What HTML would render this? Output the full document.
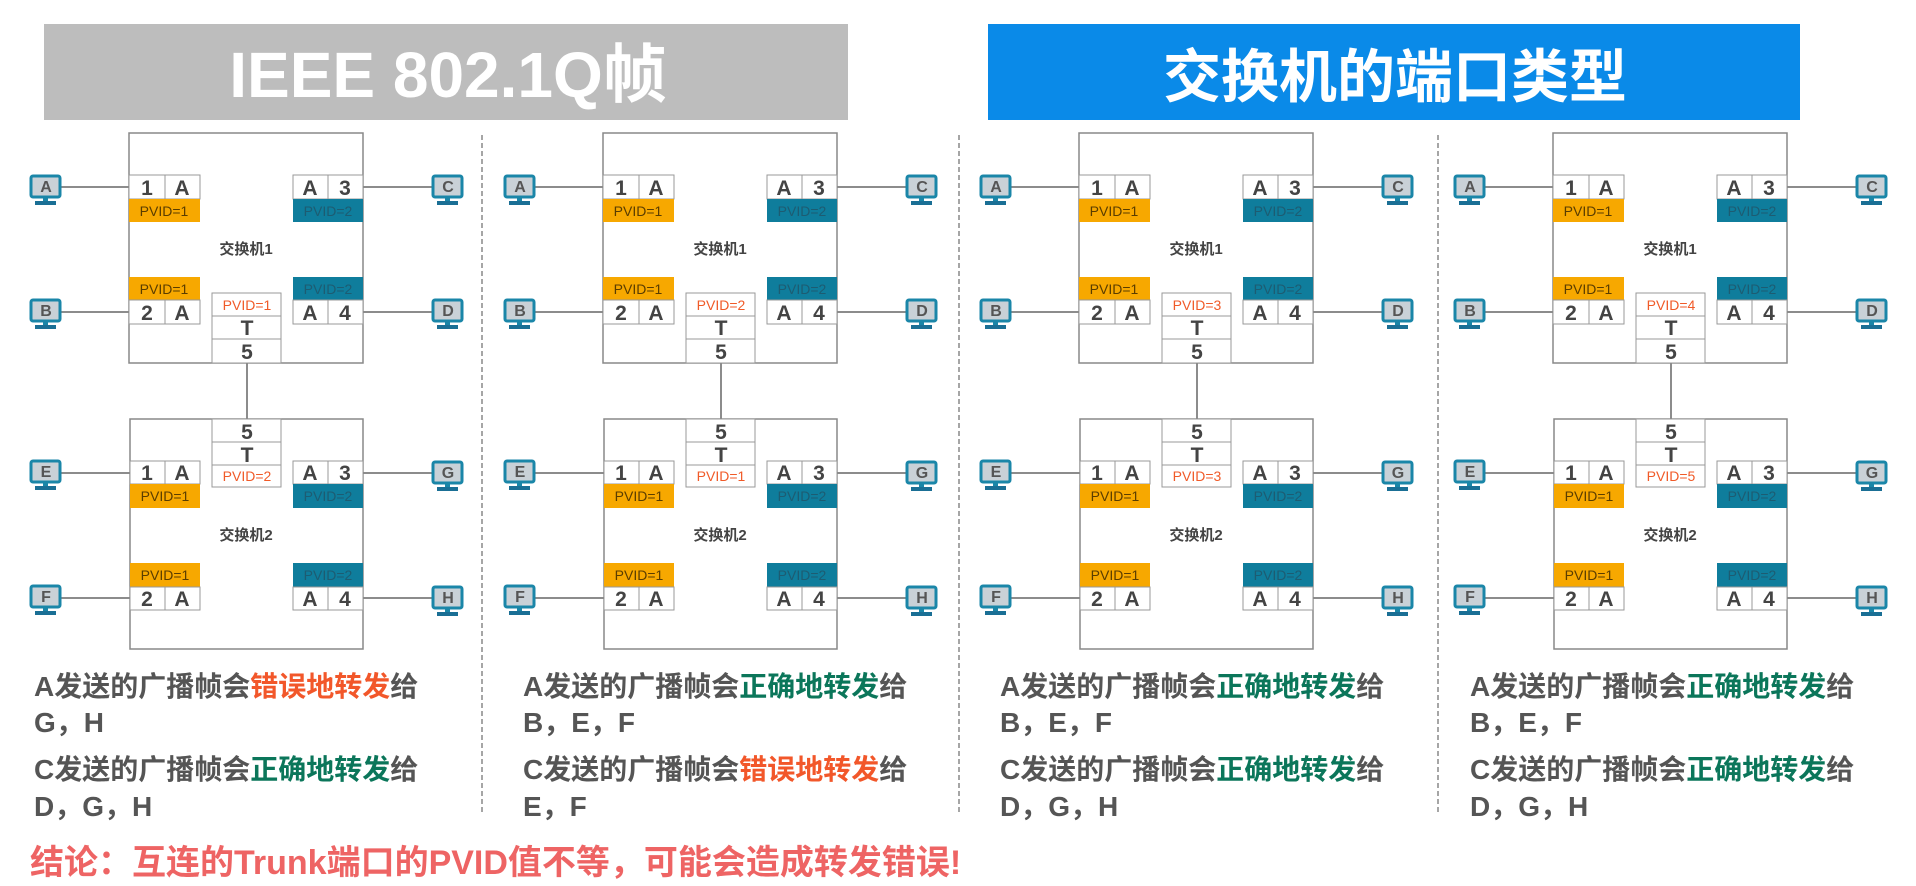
<!DOCTYPE html>
<html><head><meta charset="utf-8"><style>
html,body{margin:0;padding:0;background:#fff;}
svg{display:block;}
.c{font-family:"Liberation Sans",sans-serif;font-weight:bold;font-size:21px;fill:#444;text-anchor:middle;}
.p{font-family:"Liberation Sans",sans-serif;font-size:14px;text-anchor:middle;}
.po{fill:#5a3d00;}
.pt{fill:#1d5c72;}
.pr{fill:#f05a28;}
.lb{font-family:"Liberation Sans","Noto Sans CJK SC",sans-serif;font-weight:bold;font-size:15px;fill:#444;text-anchor:middle;}
.pc{font-family:"Liberation Sans",sans-serif;font-weight:bold;font-size:16px;fill:#555;text-anchor:middle;}
.t{font-family:"Liberation Sans","Noto Sans CJK SC",sans-serif;font-weight:bold;font-size:28px;fill:#555;}
.r{fill:#f2572a;} .g{fill:#0b765a;}
.sw{fill:#fff;stroke:#888;stroke-width:1.5;}
.cl{fill:#fff;stroke:#999;stroke-width:1;}
.ln{stroke:#666;stroke-width:1.5;}
</style></head><body>
<svg width="1916" height="886" viewBox="0 0 1916 886" xmlns="http://www.w3.org/2000/svg">
<defs>
<g id="pcl">
<rect x="1" y="0" width="29" height="21" rx="2" fill="#c9d1d7" stroke="#1a86a8" stroke-width="3"/>
<rect x="13" y="21" width="5" height="4" fill="#1a86a8"/>
<rect x="5" y="25" width="21" height="4" fill="#1a6f95"/>
</g>
</defs>

<rect x="44" y="24" width="804" height="96" fill="#bdbdbd"/>
<text x="448" y="97" text-anchor="middle" font-family="Liberation Sans,Noto Sans CJK SC,sans-serif" font-weight="bold" font-size="64" fill="#fff">IEEE 802.1Q帧</text>
<rect x="988" y="24" width="812" height="96" fill="#0a8ae8"/>
<text x="1395" y="97" text-anchor="middle" font-family="Liberation Sans,Noto Sans CJK SC,sans-serif" font-weight="bold" font-size="58" fill="#fff">交换机的端口类型</text>

<g stroke="#777" stroke-width="1.3" stroke-dasharray="5,3">
<line x1="482" y1="135" x2="482" y2="815"/>
<line x1="959" y1="135" x2="959" y2="815"/>
<line x1="1438" y1="135" x2="1438" y2="815"/>
</g>

<g id="P1">
<rect class="sw" x="129" y="133" width="234" height="230"/>
<rect class="sw" x="130" y="419" width="233" height="230"/>
<line class="ln" x1="247" y1="363" x2="247" y2="419"/>
<line class="ln" x1="61" y1="187" x2="129" y2="187"/>
<line class="ln" x1="61" y1="312" x2="129" y2="312"/>
<line class="ln" x1="61" y1="473" x2="130" y2="473"/>
<line class="ln" x1="61" y1="598" x2="130" y2="598"/>
<line class="ln" x1="363" y1="187" x2="433" y2="187"/>
<line class="ln" x1="363" y1="312" x2="433" y2="312"/>
<line class="ln" x1="363" y1="473" x2="433" y2="473"/>
<line class="ln" x1="363" y1="598" x2="433" y2="598"/>
</g>
<use href="#P1" x="474"/><use href="#P1" x="950"/><use href="#P1" x="1424"/>

<g id="PCS">
<use href="#pcl" x="30" y="176"/><use href="#pcl" x="30" y="300"/><use href="#pcl" x="30" y="461"/><use href="#pcl" x="30" y="586"/>
<use href="#pcl" x="432" y="176"/><use href="#pcl" x="432" y="300"/><use href="#pcl" x="432" y="462"/><use href="#pcl" x="432" y="587"/>
</g>
<use href="#PCS" x="474"/><use href="#PCS" x="950"/><use href="#PCS" x="1424"/>

<g id="PORTS">
<rect class="cl" x="129" y="175" width="36" height="24"/><rect class="cl" x="165" y="175" width="35" height="24"/>
<rect x="129" y="199" width="71" height="23" fill="#f7a800"/>
<rect class="cl" x="293" y="175" width="35" height="24"/><rect class="cl" x="328" y="175" width="35" height="24"/>
<rect x="293" y="199" width="70" height="23" fill="#0f7d9c"/>
<rect x="129" y="277" width="71" height="23" fill="#f7a800"/>
<rect class="cl" x="129" y="300" width="36" height="24"/><rect class="cl" x="165" y="300" width="35" height="24"/>
<rect x="293" y="277" width="70" height="23" fill="#0f7d9c"/>
<rect class="cl" x="293" y="300" width="35" height="24"/><rect class="cl" x="328" y="300" width="35" height="24"/>
<rect class="cl" x="212" y="293" width="69" height="23"/><rect class="cl" x="212" y="316" width="69" height="23"/><rect class="cl" x="212" y="339" width="69" height="24"/>
<rect class="cl" x="212" y="419" width="69" height="23"/><rect class="cl" x="212" y="442" width="69" height="23"/><rect class="cl" x="212" y="465" width="69" height="22"/>
<rect class="cl" x="130" y="461" width="35" height="23"/><rect class="cl" x="165" y="461" width="35" height="23"/>
<rect x="130" y="484" width="70" height="24" fill="#f7a800"/>
<rect class="cl" x="293" y="461" width="35" height="23"/><rect class="cl" x="328" y="461" width="35" height="23"/>
<rect x="293" y="484" width="70" height="24" fill="#0f7d9c"/>
<rect x="130" y="563" width="70" height="24" fill="#f7a800"/>
<rect class="cl" x="130" y="587" width="35" height="23"/><rect class="cl" x="165" y="587" width="35" height="23"/>
<rect x="293" y="563" width="70" height="24" fill="#0f7d9c"/>
<rect class="cl" x="293" y="587" width="35" height="23"/><rect class="cl" x="328" y="587" width="35" height="23"/>
</g>
<use href="#PORTS" x="474"/><use href="#PORTS" x="950"/><use href="#PORTS" x="1424"/>

<g id="TX">
<text class="c" x="147" y="195">1</text><text class="c" x="182" y="195">A</text>
<text class="c" x="310" y="195">A</text><text class="c" x="345" y="195">3</text>
<text class="c" x="147" y="320">2</text><text class="c" x="182" y="320">A</text>
<text class="c" x="310" y="320">A</text><text class="c" x="345" y="320">4</text>
<text class="c" x="247" y="335">T</text><text class="c" x="247" y="359">5</text>
<text class="c" x="247" y="439">5</text><text class="c" x="247" y="462">T</text>
<text class="c" x="147" y="480">1</text><text class="c" x="182" y="480">A</text>
<text class="c" x="310" y="480">A</text><text class="c" x="345" y="480">3</text>
<text class="c" x="147" y="606">2</text><text class="c" x="182" y="606">A</text>
<text class="c" x="310" y="606">A</text><text class="c" x="345" y="606">4</text>
<text class="p po" x="164" y="216">PVID=1</text><text class="p pt" x="328" y="216">PVID=2</text>
<text class="p po" x="164" y="294">PVID=1</text><text class="p pt" x="328" y="294">PVID=2</text>
<text class="p po" x="165" y="501">PVID=1</text><text class="p pt" x="328" y="501">PVID=2</text>
<text class="p po" x="165" y="580">PVID=1</text><text class="p pt" x="328" y="580">PVID=2</text>
<text class="lb" x="246" y="254">交换机1</text><text class="lb" x="246" y="540">交换机2</text>
<text class="pc" x="46" y="192">A</text><text class="pc" x="46" y="316">B</text><text class="pc" x="46" y="477">E</text><text class="pc" x="46" y="602">F</text>
<text class="pc" x="448" y="192">C</text><text class="pc" x="448" y="316">D</text><text class="pc" x="448" y="478">G</text><text class="pc" x="448" y="603">H</text>
</g>
<use href="#TX" x="474"/><use href="#TX" x="950"/><use href="#TX" x="1424"/>

<text class="p pr" x="247" y="310">PVID=1</text><text class="p pr" x="247" y="481">PVID=2</text>
<text class="p pr" x="721" y="310">PVID=2</text><text class="p pr" x="721" y="481">PVID=1</text>
<text class="p pr" x="1197" y="310">PVID=3</text><text class="p pr" x="1197" y="481">PVID=3</text>
<text class="p pr" x="1671" y="310">PVID=4</text><text class="p pr" x="1671" y="481">PVID=5</text>

<text class="t" x="34" y="696">A发送的广播帧会<tspan class="r">错误地转发</tspan>给</text>
<text class="t" x="34" y="732">G，H</text>
<text class="t" x="34" y="779">C发送的广播帧会<tspan class="g">正确地转发</tspan>给</text>
<text class="t" x="34" y="816">D，G，H</text>

<text class="t" x="523" y="696">A发送的广播帧会<tspan class="g">正确地转发</tspan>给</text>
<text class="t" x="523" y="732">B，E，F</text>
<text class="t" x="523" y="779">C发送的广播帧会<tspan class="r">错误地转发</tspan>给</text>
<text class="t" x="523" y="816">E，F</text>

<text class="t" x="1000" y="696">A发送的广播帧会<tspan class="g">正确地转发</tspan>给</text>
<text class="t" x="1000" y="732">B，E，F</text>
<text class="t" x="1000" y="779">C发送的广播帧会<tspan class="g">正确地转发</tspan>给</text>
<text class="t" x="1000" y="816">D，G，H</text>

<text class="t" x="1470" y="696">A发送的广播帧会<tspan class="g">正确地转发</tspan>给</text>
<text class="t" x="1470" y="732">B，E，F</text>
<text class="t" x="1470" y="779">C发送的广播帧会<tspan class="g">正确地转发</tspan>给</text>
<text class="t" x="1470" y="816">D，G，H</text>

<text x="30" y="874" font-family="Liberation Sans,Noto Sans CJK SC,sans-serif" font-weight="bold" font-size="34" fill="#ee6464">结论：互连的Trunk端口的PVID值不等，可能会造成转发错误!</text>
</svg>
</body></html>
